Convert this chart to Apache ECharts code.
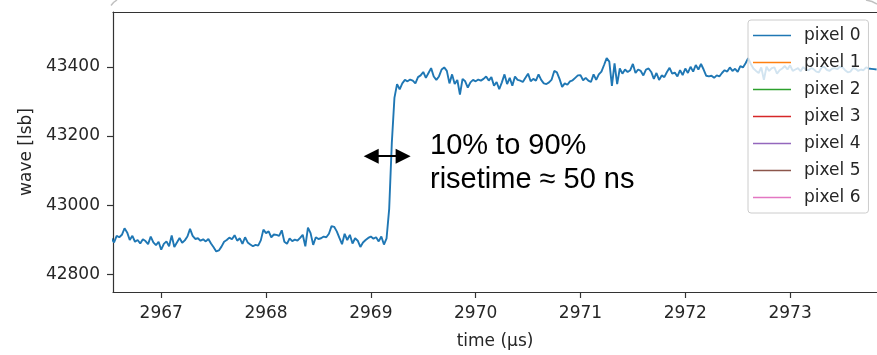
<!DOCTYPE html>
<html>
<head>
<meta charset="utf-8">
<script src="https://cdn.jsdelivr.net/npm/echarts@6/dist/echarts.min.js"></script>
<style>
  html, body { margin: 0; padding: 0; background: #fff; overflow: hidden; }
  #chart { width: 877px; height: 355px; }
</style>
</head>
<body>
<div id="chart"></div>
<script>
// Waveform of pixel 0 around the signal step, sampled every 25 ns
const t0 = 2966.525;      // µs, first sample
const dt = 0.025;         // µs, sample spacing
const pixel0 = [
  42905, 42893, 42912, 42908, 42915, 42934, 42922, 42900, 42912, 42895,
  42900, 42890, 42902, 42897, 42888, 42910, 42893, 42885, 42895, 42872,
  42889, 42896, 42882, 42913, 42880, 42893, 42906, 42892, 42899, 42910,
  42932, 42912, 42903, 42905, 42898, 42902, 42896, 42903, 42890, 42879,
  42867, 42870, 42881, 42895, 42900, 42907, 42902, 42914, 42898, 42905,
  42889, 42908, 42893,
  42887, 42882, 42886, 42884, 42899, 42930, 42920, 42925, 42908, 42916,
  42915, 42912, 42928, 42895, 42889, 42905, 42897, 42901, 42898, 42906,
  42915, 42882, 42936, 42920, 42886, 42908, 42903, 42905, 42910, 42908,
  42918, 42940, 42938, 42925, 42906, 42888, 42918, 42900, 42915, 42890,
  42905, 42898, 42880, 42893, 42900, 42906, 42910, 42904, 42908, 42896,
  42910, 42887, 42905,
  42990, 43180, 43310, 43350,
  43335, 43352, 43362, 43358, 43363, 43360, 43352, 43370, 43375, 43385,
  43368, 43382, 43396, 43372, 43362, 43372, 43392, 43398, 43388, 43352,
  43378, 43350, 43362, 43320, 43365, 43358, 43340, 43355, 43362, 43358,
  43363, 43360, 43365, 43372, 43360, 43370, 43345, 43356, 43335, 43355,
  43378, 43350, 43368, 43345, 43372, 43362, 43360, 43356, 43368, 43380,
  43358, 43365, 43360, 43378,
  43362, 43352, 43350, 43355, 43363, 43388, 43384, 43365, 43342, 43352,
  43348, 43358, 43361, 43368, 43375, 43376, 43361, 43368, 43360, 43356,
  43378, 43362, 43378, 43386, 43405, 43425, 43415, 43345, 43410, 43350,
  43395, 43380, 43392, 43385, 43390, 43408, 43382, 43392, 43388, 43375,
  43392, 43395, 43385, 43365, 43382, 43362, 43375, 43370, 43385, 43397,
  43380,
  43383, 43372, 43390, 43376, 43395, 43382, 43400, 43386, 43405, 43392,
  43408, 43392, 43374, 43372, 43374, 43368, 43375, 43372, 43382, 43390,
  43386, 43398, 43388, 43394, 43385, 43402, 43398, 43410, 43425, 43408,
  43395, 43388, 43382, 43398, 43362, 43400, 43388, 43396, 43398, 43380,
  43390, 43395, 43402, 43392, 43404, 43388, 43392, 43396, 43387, 43399,
  43392, 43390, 43396, 43393, 43386, 43384, 43398, 43400, 43391, 43388,
  43394, 43396, 43393, 43400, 43398, 43390, 43384, 43386, 43396, 43394,
  43388, 43392, 43390, 43398, 43395, 43394, 43393, 43392
];

const seriesNames = ['pixel 0', 'pixel 1', 'pixel 2', 'pixel 3', 'pixel 4', 'pixel 5', 'pixel 6'];
const seriesColors = ['#1f77b4', '#ff7f0e', '#2ca02c', '#d62728', '#9467bd', '#8c564b', '#e377c2'];

const xTicks = [2967, 2968, 2969, 2970, 2971, 2972, 2973];
const yTicks = [42800, 43000, 43200, 43400];

// 10 % to 90 % rise interval marker (µs, between arrow-head centres) and its height (lsb)
const riseSpan = [2969.003, 2969.308];
const riseLevel = 43142;
const riseText = '10% to 90%\nrisetime \u2248 50 ns';

const xRange = [2966.54, 2973.829];
const yRange = [42750, 43558];

const pixel0Points = pixel0.map((v, i) => [t0 + i * dt, v]);

const mplFont = '"DejaVu Sans", sans-serif';
const textColor = '#262626';
const spine = { color: '#333', width: 1.2 };

const chart = echarts.init(document.getElementById('chart'), null, { renderer: 'canvas' });

const series = seriesNames.map((name, k) => ({
  name: name,
  type: 'line',
  data: k === 0 ? pixel0Points : [],
  showSymbol: false,
  symbol: 'none',
  animation: false,
  clip: true,
  lineStyle: { width: 1.9, color: seriesColors[k] },
  itemStyle: { color: seriesColors[k] },
  z: 2
}));

series[0].markLine = {
  silent: true,
  animation: false,
  symbol: ['triangle', 'triangle'],
  symbolSize: [15, 15],
  label: { show: false },
  lineStyle: { color: '#000', width: 2, type: 'solid' },
  itemStyle: { color: '#000' },
  emphasis: { disabled: true },
  data: [[
    { coord: [riseSpan[0], riseLevel] },
    { coord: [riseSpan[1], riseLevel] }
  ]]
};

chart.setOption({
  animation: false,
  color: seriesColors,
  grid: { left: 113, top: 12, bottom: 57, right: -3 },
  xAxis: [{
    type: 'value',
    min: xRange[0],
    max: xRange[1],
    name: 'time (\u00b5s)',
    nameLocation: 'middle',
    nameGap: 41,
    nameTextStyle: { fontFamily: mplFont, fontSize: 17, color: textColor },
    axisLine: { show: true, onZero: false, lineStyle: spine },
    splitLine: { show: false },
    axisTick: { show: true, inside: false, length: 6, customValues: xTicks, lineStyle: spine },
    axisLabel: { show: true, margin: 13, customValues: xTicks,
      fontFamily: mplFont, fontSize: 17, color: textColor,
      formatter: v => String(v) }
  }, {
    // top frame line of the axes box
    type: 'value',
    position: 'top',
    min: xRange[0],
    max: xRange[1],
    axisLine: { show: true, onZero: false, lineStyle: spine },
    axisTick: { show: false },
    axisLabel: { show: false },
    splitLine: { show: false }
  }],
  yAxis: {
    type: 'value',
    min: yRange[0],
    max: yRange[1],
    name: 'wave [lsb]',
    nameLocation: 'middle',
    nameGap: 78,
    nameRotate: 90,
    nameTextStyle: { fontFamily: mplFont, fontSize: 17, color: textColor },
    axisLine: { show: true, onZero: false, lineStyle: spine },
    splitLine: { show: false },
    axisTick: { show: true, inside: false, length: 6, customValues: yTicks, lineStyle: spine },
    axisLabel: { show: true, margin: 13, customValues: yTicks,
      fontFamily: mplFont, fontSize: 17, color: textColor,
      formatter: v => String(v) }
  },
  legend: {
    data: seriesNames,
    orient: 'vertical',
    left: 748,
    top: 20,
    padding: [7, 8, 7, 5],
    itemGap: 10,
    itemWidth: 38,
    itemHeight: 1.6,
    icon: 'rect',
    selectedMode: false,
    backgroundColor: 'rgba(255,255,255,0.8)',
    borderColor: '#cccccc',
    borderWidth: 1,
    borderRadius: 3,
    textStyle: { fontFamily: mplFont, fontSize: 17, color: textColor,
      padding: [0, 0, 0, 8], lineHeight: 17 }
  },
  graphic: [{
    type: 'text',
    left: 430,
    top: 129,
    silent: true,
    style: {
      text: riseText,
      font: '29px "Liberation Sans", Arial, sans-serif',
      fill: '#000',
      lineHeight: 34
    },
    z: 10
  }, {
    // fragments of the surrounding rounded frame
    type: 'polyline',
    silent: true,
    shape: { points: [[111, 5.5], [113.5, 2.5], [117, 0]] },
    style: { stroke: '#c0c0c0', lineWidth: 1.5, fill: null },
    z: 10
  }, {
    type: 'polyline',
    silent: true,
    shape: { points: [[866, 0], [872, 1.5], [877, 4]] },
    style: { stroke: '#c0c0c0', lineWidth: 1.5, fill: null },
    z: 10
  }],
  series: series
});
</script>
</body>
</html>
